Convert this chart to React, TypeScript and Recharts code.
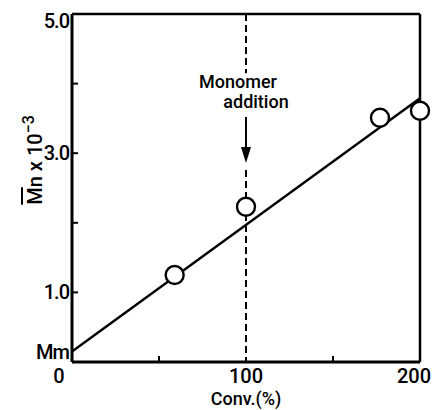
import React from "react";
import { ScatterChart, Scatter, XAxis, YAxis, ReferenceLine, Label } from "recharts";

// measured points (conversion %, Mn x 10^-3)
const convPct = [59, 100, 177, 200];
const mnValues = [1.25, 2.23, 3.51, 3.61];

// fitted straight line, starts at Mm (monomer mass)
const fitConv = [0, 200];
const fitMn = [0.15, 3.79];

const xTickValues = [0, 50, 100, 150, 200];
const xTickLabels: Record<number, string> = { 0: "0", 100: "100", 200: "200" };
const yTickValues = [0.15, 1, 2, 3, 4, 5];
const yTickLabels: Record<number, string> = { 0.15: "Mm", 1: "1.0", 3: "3.0", 5: "5.0" };

const additionConv = 100;
// dashed marker pieces + arrow (in Mn units)
const dashTop = [5, 4.15];
const dashBottom = [2.76, 0];
const arrowSpan = [3.52, 2.86];

const FONT = "Roboto";
const WEIGHT = 500;

const points = convPct.map((x, i) => ({ x, y: mnValues[i] }));
const fitData = fitConv.map((x, i) => ({ x, y: fitMn[i] }));

const XTick = (props: any) => {
  const { x, y, payload } = props;
  const v = payload.value;
  const label = xTickLabels[v];
  let dx = 0;
  if (v === 0) dx = -13;
  if (v === 200) dx = -6;
  return (
    <g>
      {(v === 50 || v === 150) && (
        <line x1={x} y1={y} x2={x} y2={y - 6} stroke="#000" strokeWidth={2} />
      )}
      {label && (
        <text x={x + dx} y={y + 21} textAnchor="middle" fontFamily={FONT} fontWeight={WEIGHT} fontSize={20} fill="#000">
          {label}
        </text>
      )}
    </g>
  );
};

const YTick = (props: any) => {
  const { x, y, payload } = props;
  const v = payload.value;
  const label = yTickLabels[v];
  const dy = v === 5 ? 14 : 7;
  return (
    <g>
      {v >= 1 && v <= 4 && (
        <line x1={x} y1={y} x2={x + 6} y2={y} stroke="#000" strokeWidth={2} />
      )}
      {label && (
        <text x={x - 3} y={y + dy} textAnchor="end" fontFamily={FONT} fontWeight={WEIGHT} fontSize={20} fill="#000" letterSpacing={-1}>
          {label}
        </text>
      )}
    </g>
  );
};

const ArrowShape = (props: any) => {
  const { x1, y1, x2, y2 } = props;
  return (
    <g>
      <line x1={x1} y1={y1} x2={x2} y2={y2 - 12} stroke="#000" strokeWidth={2} />
      <polygon points={`${x2 - 5},${y2 - 16} ${x2 + 5},${y2 - 16} ${x2},${y2}`} fill="#000" />
      <text x={x1 - 8} y={y1 - 29} textAnchor="middle" fontFamily={FONT} fontWeight={WEIGHT} fontSize={18} fill="#000">
        Monomer
      </text>
      <text x={x1 + 10} y={y1 - 9} textAnchor="middle" fontFamily={FONT} fontWeight={WEIGHT} fontSize={18} fill="#000">
        addition
      </text>
    </g>
  );
};

const Ring = (props: any) => {
  const { cx, cy } = props;
  return <circle cx={cx} cy={cy} r={9} fill="#fff" stroke="#000" strokeWidth={2.4} />;
};

export default function App() {
  return (
    <div style={{ position: "absolute", left: 0, top: 0 }}>
      <ScatterChart width={433} height={410} margin={{ top: 14, right: 13, left: 0, bottom: 0 }}>
        <XAxis
          type="number"
          dataKey="x"
          domain={[0, 200]}
          ticks={xTickValues}
          interval={0}
          tickSize={0}
          tickMargin={0}
          tickLine={false}
          tick={<XTick />}
          height={48}
          axisLine={{ stroke: "#000", strokeWidth: 3 }}
        >
          <Label
            content={({ viewBox }: any) => (
              <text
                x={viewBox.x + viewBox.width / 2}
                y={viewBox.y + 43}
                textAnchor="middle"
                fontFamily={FONT}
                fontWeight={WEIGHT}
                fontSize={18}
                fill="#000"
              >
                Conv.(%)
              </text>
            )}
          />
        </XAxis>
        <YAxis
          type="number"
          dataKey="y"
          domain={[0, 5]}
          ticks={yTickValues}
          interval={0}
          tickSize={0}
          tickMargin={0}
          tickLine={false}
          tick={<YTick />}
          width={72}
          axisLine={{ stroke: "#000", strokeWidth: 3 }}
        >
          <Label
            content={({ viewBox }: any) => {
              const cx = 42;
              const cy = viewBox.y + 146;
              return (
                <text
                  x={cx}
                  y={cy}
                  transform={`rotate(-90 ${cx} ${cy})`}
                  textAnchor="middle"
                  fontFamily={FONT}
                  fontWeight={WEIGHT}
                  fontSize={20}
                  fill="#000"
                >
                  <tspan style={{ textDecoration: "overline" }}>M</tspan>
                  <tspan>n x 10</tspan>
                  <tspan dy={-8} fontSize={16}>−3</tspan>
                </text>
              );
            }}
          />
        </YAxis>
        <ReferenceLine y={5} stroke="#000" strokeWidth={2.5} />
        <ReferenceLine x={200} stroke="#000" strokeWidth={2.5} />
        <ReferenceLine
          segment={[{ x: additionConv, y: dashTop[0] }, { x: additionConv, y: dashTop[1] }]}
          stroke="#000"
          strokeWidth={2}
          strokeDasharray="7 4"
        />
        <ReferenceLine
          segment={[{ x: additionConv, y: dashBottom[0] }, { x: additionConv, y: dashBottom[1] }]}
          stroke="#000"
          strokeWidth={2}
          strokeDasharray="7 4"
        />
        <ReferenceLine
          segment={[{ x: additionConv, y: arrowSpan[0] }, { x: additionConv, y: arrowSpan[1] }]}
          shape={<ArrowShape />}
        />
        <Scatter
          data={fitData}
          line={{ stroke: "#000", strokeWidth: 2.4 }}
          shape={() => <g />}
          isAnimationActive={false}
        />
        <Scatter data={points} shape={<Ring />} isAnimationActive={false} />
      </ScatterChart>
    </div>
  );
}
